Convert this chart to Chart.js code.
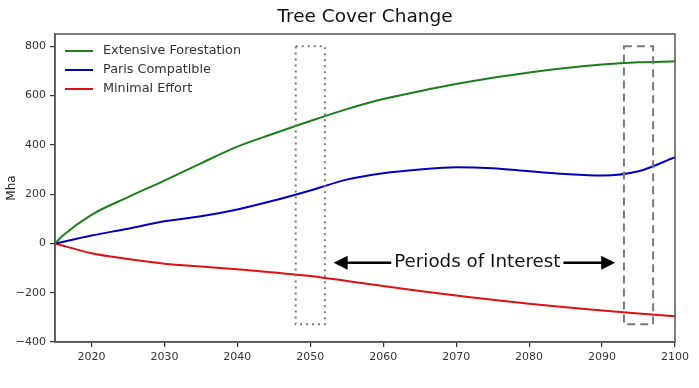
<!DOCTYPE html>
<html><head><meta charset="utf-8">
<script src="https://cdn.jsdelivr.net/npm/chart.js@4/dist/chart.umd.min.js"></script>
<style>html,body{margin:0;padding:0;background:#fff}#wrap{width:699px;height:388px}</style>
</head><body><div id="wrap"><canvas id="c" width="699" height="388"></canvas></div>
<script>
const years = [2015, 2016, 2020, 2025, 2030, 2035, 2040, 2045, 2050, 2055, 2060, 2065, 2070, 2075, 2080, 2085, 2090, 2095, 2100];
const extensive = [0, 30, 116, 188, 255, 325, 393, 446, 497, 545, 586, 618, 647, 672, 694, 712, 726, 735, 739];
const paris = [0, 6, 32, 60, 90, 110, 138, 174, 215, 259, 285, 300, 309, 305, 293, 282, 276, 293, 350];
const minimal = [0, -8, -40, -63, -82, -94, -105, -118, -132, -152, -173, -193, -211, -229, -245, -259, -272, -284, -296];
const xTicks = [2020, 2030, 2040, 2050, 2060, 2070, 2080, 2090, 2100];
const yTicks = [-400, -200, 0, 200, 400, 600, 800];
const seriesNames = ['Extensive Forestation', 'Paris Compatible', 'Minimal Effort'];
const seriesColors = ['#1a7f1a', '#0000c0', '#dd1111'];
const boxes = [{x0: 2048, x1: 2052, y0: -328, y1: 800, dash: [2, 4]}, {x0: 2093, x1: 2097, y0: -328, y1: 800, dash: [8, 5]}];
const arrowLabel = {text: 'Periods of Interest', x: 2072.9, y: -78, leftTip: 2053.2, rightTip: 2091.8};

const FONT = '"DejaVu Sans", sans-serif';
const mk = vals => years.map((y, i) => ({x: y, y: vals[i]}));

const overlay = {
  id: 'overlay',
  afterDraw(chart) {
    const ctx = chart.ctx, a = chart.chartArea, xs = chart.scales.x, ys = chart.scales.y;
    ctx.save();
    ctx.strokeStyle = '#555'; ctx.lineWidth = 1.5; ctx.setLineDash([]);
    ctx.strokeRect(a.left, a.top, a.right - a.left, a.bottom - a.top);
    ctx.fillStyle = '#111'; ctx.font = '18.5px ' + FONT; ctx.textAlign = 'center'; ctx.textBaseline = 'middle';
    ctx.fillText('Tree Cover Change', (a.left + a.right) / 2, 17);
    ctx.font = '12.8px ' + FONT; ctx.textAlign = 'left';
    seriesNames.forEach((n, i) => {
      const yy = a.top + 17 + i * 19;
      ctx.strokeStyle = seriesColors[i]; ctx.lineWidth = 2;
      ctx.beginPath(); ctx.moveTo(a.left + 10, yy); ctx.lineTo(a.left + 38, yy); ctx.stroke();
      ctx.fillStyle = '#333'; ctx.fillText(n, a.left + 48, yy);
    });
    boxes.forEach(b => {
      ctx.strokeStyle = '#7a7a7a'; ctx.lineWidth = 2; ctx.setLineDash(b.dash);
      const x0 = xs.getPixelForValue(b.x0), x1 = xs.getPixelForValue(b.x1);
      const y0 = ys.getPixelForValue(b.y0), y1 = ys.getPixelForValue(b.y1);
      ctx.strokeRect(x0, y1, x1 - x0, y0 - y1);
    });
    ctx.setLineDash([]);
    const cx = xs.getPixelForValue(arrowLabel.x), cy = ys.getPixelForValue(arrowLabel.y);
    ctx.font = '18.3px ' + FONT; ctx.fillStyle = '#111'; ctx.textAlign = 'center';
    ctx.fillText(arrowLabel.text, cx, cy);
    const w = ctx.measureText(arrowLabel.text).width;
    const lx = xs.getPixelForValue(arrowLabel.leftTip), rx = xs.getPixelForValue(arrowLabel.rightTip);
    ctx.strokeStyle = '#000'; ctx.fillStyle = '#000'; ctx.lineWidth = 2.5;
    const drawArrow = (from, tip, dir) => {
      ctx.beginPath(); ctx.moveTo(from, cy); ctx.lineTo(tip - dir * 12, cy); ctx.stroke();
      ctx.beginPath(); ctx.moveTo(tip, cy); ctx.lineTo(tip - dir * 14, cy - 7); ctx.lineTo(tip - dir * 14, cy + 7); ctx.closePath(); ctx.fill();
    };
    drawArrow(cx - w / 2 - 3, lx, -1);
    drawArrow(cx + w / 2 + 3, rx, 1);
    ctx.restore();
  }
};

new Chart(document.getElementById('c'), {
  type: 'line',
  data: {
    datasets: seriesNames.map((n, i) => ({
      label: n, data: mk([extensive, paris, minimal][i]), borderColor: seriesColors[i],
      borderWidth: 2, pointRadius: 0, cubicInterpolationMode: 'monotone', fill: false
    }))
  },
  options: {
    responsive: false, animation: false, devicePixelRatio: 1,
    layout: {padding: {top: 34, right: 24, left: 0, bottom: 0}},
    plugins: {legend: {display: false}, title: {display: false}, tooltip: {enabled: false}},
    scales: {
      x: {
        type: 'linear', min: 2015, max: 2100,
        afterBuildTicks: s => { s.ticks = xTicks.map(v => ({value: v})); },
        afterFit: s => { s.height = 46; },
        grid: {display: true, drawOnChartArea: false, drawTicks: true, tickLength: 5, color: '#333', lineWidth: 1.2},
        border: {display: true, color: '#555', width: 1.5},
        ticks: {color: '#333', font: {family: FONT, size: 11}, padding: 4, maxRotation: 0, callback: v => String(v)}
      },
      y: {
        min: -400, max: 850,
        afterBuildTicks: s => { s.ticks = yTicks.map(v => ({value: v})); },
        afterFit: s => { s.width = 55; },
        grid: {display: true, drawOnChartArea: false, drawTicks: true, tickLength: 5, color: '#333', lineWidth: 1.2},
        border: {display: true, color: '#555', width: 1.5},
        title: {display: true, text: 'Mha', color: '#222', font: {family: FONT, size: 12}, padding: {top: 5, bottom: 0}},
        ticks: {color: '#333', font: {family: FONT, size: 11}, padding: 4, callback: v => String(v).replace('-', '\u2212')}
      }
    }
  },
  plugins: [overlay]
});
</script></body></html>
